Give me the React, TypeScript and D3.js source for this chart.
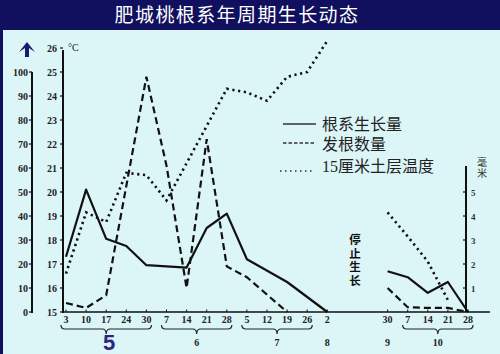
import React from "react";
import * as d3 from "d3";

// ---- data ----
const slots = [0, 1, 2, 3, 4, 5, 6, 7, 8, 9, 10, 11, 12, 13, 16, 17, 18, 19, 20];
const dayLabels = ["3", "10", "17", "24", "30", "7", "14", "21", "28", "5", "12", "19", "26", "2", "30", "7", "14", "21", "28"];
// 根系生长量 (mm, right axis)
const rootGrowth = [2.3, 5.1, 3.05, 2.75, 1.95, 1.9, 1.85, 3.5, 4.1, 2.2, null, 1.25, null, 0, 1.7, 1.45, 0.8, 1.25, 0];
// 发根数量 (left axis 0-100)
const rootCount = [3.75, 1.7, 7, null, 98, 61, 10, 72, 19, 14.5, null, 0, null, null, 10, 2, 1.7, 1.7, 0];
// 15厘米土层温度 (°C)
const soilTemp = [16.6, 19.15, 18.75, 20.8, 20.7, 19.65, null, null, 24.3, 24.15, 23.8, 24.8, 25.0, 26.3, 19.15, 18.15, 17.1, 15.5, null];

const monthLabels = ["5", "6", "7", "8", "9", "10"];
const monthFirstSlot = [0, 5, 9, 13, 16, 17];
const monthLastSlot = [4, 8, 12, 13, 16, 20];

const countTicks = [0, 10, 20, 30, 40, 50, 60, 70, 80, 90, 100];
const tempTicks = [15, 16, 17, 18, 19, 20, 21, 22, 23, 24, 25, 26];
const mmTicks = [1, 2, 3, 4, 5];

const legendNames = ["根系生长量", "发根数量", "15厘米土层温度"];
const stopLabel = "停止生长";
const mmUnit = "毫米";

// ---- scales ----
const x = d3.scaleLinear().domain([0, 20]).range([66, 468]);
const yCount = d3.scaleLinear().domain([0, 100]).range([312, 72]);
const yTemp = d3.scaleLinear().domain([15, 25]).range([312, 72]);
const yMM = d3.scaleLinear().domain([0, 5]).range([312, 192]);

const NAVY = "#10105e";
const BG = "#dcf5f7";
const serif = "'Liberation Serif', 'DejaVu Serif', serif";
const mixed = "'Liberation Serif', 'Noto Sans CJK SC', serif";
const cjk = "'Noto Sans CJK SC', sans-serif";

function segments(values: (number | null)[], scale: d3.ScaleLinear<number, number>) {
  const parts: [number, number][][] = [[], []];
  values.forEach((v, i) => {
    if (v === null) return;
    const p: [number, number] = [x(slots[i]), scale(v)];
    parts[slots[i] <= 13 ? 0 : 1].push(p);
  });
  const line = d3.line();
  return parts.filter((p) => p.length > 1).map((p) => line(p) as string);
}

function brace(x0: number, x1: number, y: number) {
  const xm = (x0 + x1) / 2;
  return `M${x0},${y - 4} Q${x0},${y} ${x0 + 4},${y} L${xm - 4},${y} Q${xm},${y} ${xm},${y + 5} Q${xm},${y} ${xm + 4},${y} L${x1 - 4},${y} Q${x1},${y} ${x1},${y - 4}`;
}

export default function App() {
  const solid = segments(rootGrowth, yMM);
  const dashed = segments(rootCount, yCount);
  const dotted = segments(soilTemp, yTemp);

  return (
    <svg width={500} height={354} style={{ position: "absolute", left: 0, top: 0, display: "block" }}>
      <rect x={0} y={0} width={500} height={354} fill={BG} />
      <rect x={0} y={0} width={500} height={30} fill={NAVY} />
      <rect x={0} y={30} width={3} height={324} fill={NAVY} />
      <text x={237} y={22} textAnchor="middle" fill="#ffffff" fontSize={19} letterSpacing={1.4}
        fontFamily={cjk}>肥城桃根系年周期生长动态</text>

      {/* big arrow */}
      <path d="M19,52 L27,42 L35,52 L29,48 L29,57 L25,57 L25,48 Z" fill="#1c1a6e" />

      {/* left count axis */}
      <line x1={32} x2={32} y1={yCount(100)} y2={313} stroke="#111" strokeWidth={2} />
      {countTicks.map((t) => (
        <g key={"c" + t}>
          <line x1={29} x2={32} y1={yCount(t)} y2={yCount(t)} stroke="#111" strokeWidth={1.2} />
          <text x={28} y={yCount(t) + 3.5} textAnchor="end" fontSize={10} fontWeight="bold" fontFamily={serif} fill="#222">{t}</text>
        </g>
      ))}

      {/* temperature axis */}
      <line x1={63} x2={63} y1={yTemp(26) + 2} y2={313} stroke="#111" strokeWidth={2} />
      {tempTicks.map((t) => (
        <g key={"t" + t}>
          <line x1={60} x2={63} y1={yTemp(t)} y2={yTemp(t)} stroke="#111" strokeWidth={1.2} />
          <text x={57} y={yTemp(t) + 3.5} textAnchor="end" fontSize={10} fontWeight="bold" fontFamily={serif} fill="#222">{t}</text>
        </g>
      ))}
      <text x={68} y={51} fontSize={10} fontFamily={serif} fill="#222">°C</text>

      {/* right mm axis */}
      <line x1={466} x2={466} y1={166} y2={312} stroke="#111" strokeWidth={2} />
      {mmTicks.map((t) => (
        <g key={"m" + t}>
          <line x1={463} x2={466} y1={yMM(t)} y2={yMM(t)} stroke="#111" strokeWidth={1.2} />
          <text x={471} y={yMM(t) + 3.5} fontSize={9} fontWeight="bold" fontFamily={serif} fill="#333">{t}</text>
        </g>
      ))}
      <text x={482} y={157} fontSize={10} letterSpacing={1.5} fontFamily={cjk} fill="#333"
        style={{ writingMode: "vertical-rl" }}>{mmUnit}</text>

      {/* x axis */}
      <line x1={63} x2={490} y1={312} y2={312} stroke="#111" strokeWidth={1.6} />
      {slots.map((s, i) => (
        <g key={"x" + i}>
          <line x1={x(s)} x2={x(s)} y1={312} y2={309.5} stroke="#111" strokeWidth={1} />
          <text x={x(s)} y={323} textAnchor="middle" fontSize={10} fontWeight="bold" fontFamily={serif} fill="#222">{dayLabels[i]}</text>
        </g>
      ))}

      {/* month braces */}
      {monthLabels.map((m, i) => {
        const x0 = x(monthFirstSlot[i] - 0.25);
        const x1 = x(monthLastSlot[i] + 0.25);
        const mid = (x(monthFirstSlot[i]) + x(monthLastSlot[i])) / 2;
        const hasBrace = monthLastSlot[i] > monthFirstSlot[i];
        const cx = hasBrace ? (x0 + x1) / 2 : mid;
        return (
          <g key={"m" + m}>
            {hasBrace && <path d={brace(x0, x1, 329)} fill="none" stroke="#222" strokeWidth={1.2} />}
            {i === 0 ? (
              <text x={cx + 3} y={350} textAnchor="middle" fontSize={22} fontWeight="bold"
                fontFamily="'Liberation Sans', sans-serif" fill="#2a2680">{m}</text>
            ) : (
              <text x={cx} y={346} textAnchor="middle" fontSize={10} fontWeight="bold" fontFamily={serif} fill="#222">{m}</text>
            )}
          </g>
        );
      })}

      {/* stop growth label */}
      <text x={355} y={234} fontSize={11.5} fontWeight="bold" letterSpacing={2} fontFamily={cjk} fill="#111"
        style={{ writingMode: "vertical-rl" }}>{stopLabel}</text>

      {/* series */}
      {dotted.map((d, i) => (
        <path key={"dt" + i} d={d} fill="none" stroke="#111" strokeWidth={2.6} strokeDasharray="2.2,3.6" />
      ))}
      {dashed.map((d, i) => (
        <path key={"ds" + i} d={d} fill="none" stroke="#111" strokeWidth={2.2} strokeDasharray="7,4" />
      ))}
      {solid.map((d, i) => (
        <path key={"sl" + i} d={d} fill="none" stroke="#111" strokeWidth={2.2} strokeLinejoin="round" />
      ))}

      {/* legend */}
      <line x1={283} x2={316} y1={124} y2={124} stroke="#333" strokeWidth={1.3} />
      <line x1={283} x2={314} y1={143} y2={143} stroke="#333" strokeWidth={1.3} strokeDasharray="3.5,2" />
      <line x1={280} x2={313} y1={171} y2={171} stroke="#333" strokeWidth={1.5} strokeDasharray="1.5,3.5" />
      {legendNames.map((n, i) => (
        <text key={n} x={322} y={[130, 150, 172][i]} fontSize={16} fontFamily={mixed} fill="#222">{n}</text>
      ))}
    </svg>
  );
}
